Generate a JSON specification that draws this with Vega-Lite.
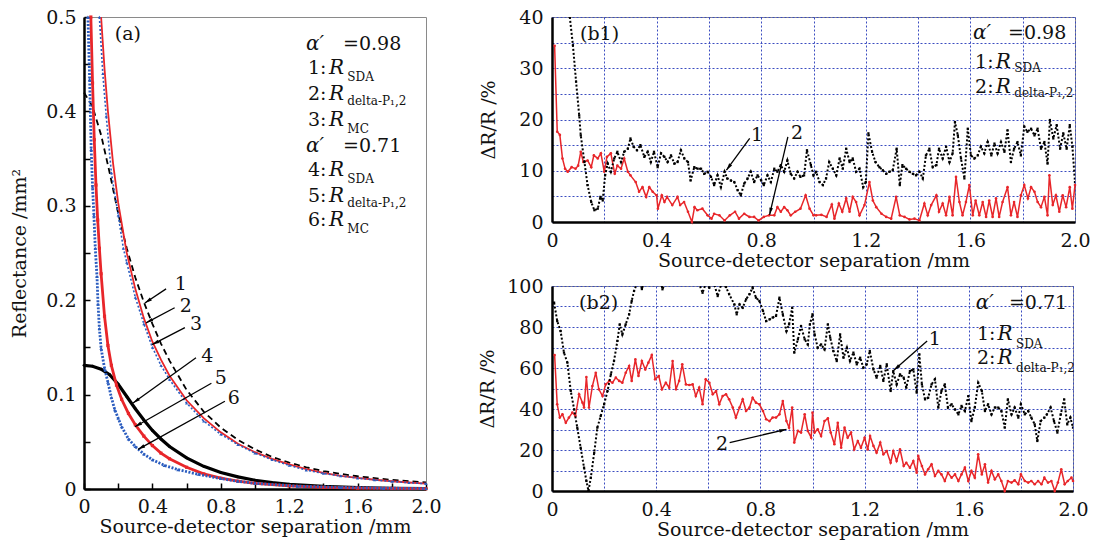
{
"$schema":"https://vega.github.io/schema/vega-lite/v6.json",
"background":"white",
"padding":{"left":10,"top":7,"right":5,"bottom":0},
"bounds":"flush",
"spacing":126,
"config":{"font":"DejaVu Serif","view":{"stroke":"#8a8a8a","strokeWidth":1},
 "axis":{"labelFont":"DejaVu Serif","titleFont":"DejaVu Serif","labelFontSize":19,"titleFontSize":19,"titleFontWeight":"normal","labelColor":"#111","titleColor":"#111","domainColor":"#000","domainWidth":2.5,"tickColor":"#000","labelOverlap":false,"labelFlush":false}},
"datasets":{
"a1":[{"x":0,"y":0.42},{"x":0.05,"y":0.405},{"x":0.1,"y":0.375},{"x":0.15,"y":0.335},{"x":0.2,"y":0.292},{"x":0.25,"y":0.255},{"x":0.3,"y":0.224},{"x":0.35,"y":0.198},{"x":0.4,"y":0.175},{"x":0.45,"y":0.154},{"x":0.5,"y":0.136},{"x":0.6,"y":0.105},{"x":0.7,"y":0.082},{"x":0.8,"y":0.065},{"x":0.9,"y":0.052},{"x":1.0,"y":0.042},{"x":1.1,"y":0.034},{"x":1.2,"y":0.028},{"x":1.3,"y":0.023},{"x":1.4,"y":0.019},{"x":1.5,"y":0.016},{"x":1.6,"y":0.0135},{"x":1.7,"y":0.0115},{"x":1.8,"y":0.0097},{"x":1.9,"y":0.0083},{"x":2.0,"y":0.007}],
"a2":[{"x":0.1,"y":0.5},{"x":0.12,"y":0.445},{"x":0.14,"y":0.4},{"x":0.17,"y":0.345},{"x":0.2,"y":0.303},{"x":0.25,"y":0.25},{"x":0.3,"y":0.212},{"x":0.35,"y":0.181},{"x":0.4,"y":0.156},{"x":0.45,"y":0.137},{"x":0.5,"y":0.12},{"x":0.6,"y":0.094},{"x":0.7,"y":0.075},{"x":0.8,"y":0.06},{"x":0.9,"y":0.048},{"x":1.0,"y":0.039},{"x":1.1,"y":0.032},{"x":1.2,"y":0.026},{"x":1.3,"y":0.021},{"x":1.4,"y":0.017},{"x":1.5,"y":0.014},{"x":1.6,"y":0.0118},{"x":1.7,"y":0.0098},{"x":1.8,"y":0.0082},{"x":1.9,"y":0.0069},{"x":2.0,"y":0.0058}],
"a3":[{"x":0.09,"y":0.5},{"x":0.11,"y":0.44},{"x":0.13,"y":0.395},{"x":0.16,"y":0.335},{"x":0.2,"y":0.29},{"x":0.23,"y":0.255},{"x":0.25,"y":0.24},{"x":0.3,"y":0.203},{"x":0.35,"y":0.175},{"x":0.4,"y":0.15},{"x":0.45,"y":0.131},{"x":0.5,"y":0.116},{"x":0.6,"y":0.091},{"x":0.7,"y":0.072},{"x":0.8,"y":0.058},{"x":0.9,"y":0.047},{"x":1.0,"y":0.038},{"x":1.1,"y":0.031},{"x":1.2,"y":0.025},{"x":1.3,"y":0.02},{"x":1.4,"y":0.0165},{"x":1.5,"y":0.0138},{"x":1.6,"y":0.0115},{"x":1.7,"y":0.0096},{"x":1.8,"y":0.008},{"x":1.9,"y":0.0067},{"x":2.0,"y":0.0056}],
"a4":[{"x":0,"y":0.131},{"x":0.05,"y":0.13},{"x":0.1,"y":0.127},{"x":0.15,"y":0.121},{"x":0.2,"y":0.111},{"x":0.25,"y":0.098},{"x":0.3,"y":0.085},{"x":0.35,"y":0.073},{"x":0.4,"y":0.062},{"x":0.45,"y":0.053},{"x":0.5,"y":0.045},{"x":0.6,"y":0.033},{"x":0.7,"y":0.024},{"x":0.8,"y":0.0175},{"x":0.9,"y":0.0128},{"x":1.0,"y":0.0093},{"x":1.1,"y":0.0068},{"x":1.2,"y":0.005},{"x":1.4,"y":0.0027},{"x":1.6,"y":0.0015},{"x":1.8,"y":0.0008},{"x":2.0,"y":0.0005}],
"a5":[{"x":0.04,"y":0.5},{"x":0.05,"y":0.43},{"x":0.06,"y":0.37},{"x":0.07,"y":0.322},{"x":0.08,"y":0.285},{"x":0.09,"y":0.255},{"x":0.1,"y":0.228},{"x":0.12,"y":0.183},{"x":0.14,"y":0.152},{"x":0.16,"y":0.131},{"x":0.19,"y":0.11},{"x":0.22,"y":0.095},{"x":0.26,"y":0.08},{"x":0.3,"y":0.068},{"x":0.35,"y":0.056},{"x":0.4,"y":0.046},{"x":0.45,"y":0.038},{"x":0.5,"y":0.032},{"x":0.6,"y":0.023},{"x":0.7,"y":0.016},{"x":0.8,"y":0.0115},{"x":0.9,"y":0.0083},{"x":1.0,"y":0.006},{"x":1.2,"y":0.0033},{"x":1.4,"y":0.0018},{"x":1.6,"y":0.001},{"x":1.8,"y":0.0006},{"x":2.0,"y":0.0003}],
"a6":[{"x":0.023,"y":0.5},{"x":0.033,"y":0.434},{"x":0.042,"y":0.36},{"x":0.05,"y":0.32},{"x":0.058,"y":0.29},{"x":0.066,"y":0.255},{"x":0.076,"y":0.225},{"x":0.082,"y":0.196},{"x":0.09,"y":0.17},{"x":0.1,"y":0.149},{"x":0.12,"y":0.128},{"x":0.14,"y":0.113},{"x":0.16,"y":0.097},{"x":0.18,"y":0.084},{"x":0.2,"y":0.075},{"x":0.22,"y":0.066},{"x":0.26,"y":0.053},{"x":0.3,"y":0.045},{"x":0.35,"y":0.037},{"x":0.4,"y":0.031},{"x":0.47,"y":0.025},{"x":0.55,"y":0.0205},{"x":0.67,"y":0.0155},{"x":0.8,"y":0.011},{"x":0.9,"y":0.0082},{"x":1.0,"y":0.006},{"x":1.25,"y":0.003},{"x":1.5,"y":0.0017},{"x":1.75,"y":0.0009},{"x":2.0,"y":0.0005}],
"a_arrows":[{"x":0.356,"y":0.197,"x1":0.48,"y1":0.212,"ang":236},{"x":0.363,"y":0.176,"x1":0.53,"y1":0.192,"ang":242},{"x":0.398,"y":0.153,"x1":0.59,"y1":0.171,"ang":243},{"x":0.287,"y":0.091,"x1":0.655,"y1":0.139,"ang":234},{"x":0.298,"y":0.066,"x1":0.745,"y1":0.112,"ang":240},{"x":0.316,"y":0.042,"x1":0.824,"y1":0.093,"ang":241}],
"a_roman":[{"x":0.18,"y":0.482,"t":"(a)"},{"x":1.515,"y":0.4714,"t":"=0.98"},{"x":1.31,"y":0.446,"t":"1:"},{"x":1.31,"y":0.418,"t":"2:"},{"x":1.31,"y":0.391,"t":"3:"},{"x":1.515,"y":0.363,"t":"=0.71"},{"x":1.31,"y":0.338,"t":"4:"},{"x":1.31,"y":0.31,"t":"5:"},{"x":1.31,"y":0.285,"t":"6:"},{"x":0.53,"y":0.217,"t":"1"},{"x":0.56,"y":0.194,"t":"2"},{"x":0.62,"y":0.175,"t":"3"},{"x":0.685,"y":0.141,"t":"4"},{"x":0.765,"y":0.118,"t":"5"},{"x":0.84,"y":0.096,"t":"6"}],
"a_italic":[{"x":1.298,"y":0.4714,"t":"α′"},{"x":1.433,"y":0.446,"t":"R"},{"x":1.433,"y":0.418,"t":"R"},{"x":1.433,"y":0.391,"t":"R"},{"x":1.298,"y":0.363,"t":"α′"},{"x":1.433,"y":0.338,"t":"R"},{"x":1.433,"y":0.31,"t":"R"},{"x":1.433,"y":0.285,"t":"R"}],
"a_sub":[{"x":1.54,"y":0.4364,"t":"SDA"},{"x":1.54,"y":0.411,"t":"delta-P₁,2"},{"x":1.54,"y":0.381,"t":"MC"},{"x":1.54,"y":0.328,"t":"SDA"},{"x":1.54,"y":0.303,"t":"delta-P₁,2"},{"x":1.54,"y":0.275,"t":"MC"}],
"b1d":[{"x":0.01,"y":34.4},{"x":0.02,"y":17.6},{"x":0.03,"y":17},{"x":0.04,"y":12.4},{"x":0.05,"y":10.4},{"x":0.06,"y":9.8},{"x":0.075,"y":10.7},{"x":0.09,"y":10.4},{"x":0.1,"y":11},{"x":0.11,"y":13.7},{"x":0.12,"y":11.7},{"x":0.136,"y":12},{"x":0.15,"y":10.7},{"x":0.16,"y":13},{"x":0.175,"y":12.4},{"x":0.187,"y":13.4},{"x":0.2,"y":9.8},{"x":0.21,"y":12.7},{"x":0.225,"y":13.4},{"x":0.24,"y":9.4},{"x":0.25,"y":11},{"x":0.264,"y":10.4},{"x":0.276,"y":12.4},{"x":0.29,"y":9.8},{"x":0.3,"y":9.1},{"x":0.32,"y":7.8},{"x":0.333,"y":5.9},{"x":0.346,"y":6.8},{"x":0.36,"y":4.9},{"x":0.372,"y":6.8},{"x":0.385,"y":5.9},{"x":0.4,"y":5.2},{"x":0.405,"y":2.6},{"x":0.42,"y":5.2},{"x":0.43,"y":3.9},{"x":0.44,"y":4.9},{"x":0.46,"y":3.3},{"x":0.48,"y":4.9},{"x":0.49,"y":3.3},{"x":0.505,"y":3.9},{"x":0.52,"y":2.0},{"x":0.535,"y":0},{"x":0.545,"y":2.9},{"x":0.556,"y":2.3},{"x":0.575,"y":2.6},{"x":0.595,"y":1.3},{"x":0.61,"y":0.65},{"x":0.62,"y":1.6},{"x":0.64,"y":1.3},{"x":0.66,"y":0.3},{"x":0.68,"y":1.3},{"x":0.7,"y":2.0},{"x":0.715,"y":0.65},{"x":0.735,"y":1.6},{"x":0.755,"y":1.0},{"x":0.773,"y":1.0},{"x":0.79,"y":0.3},{"x":0.81,"y":1.0},{"x":0.83,"y":1.3},{"x":0.85,"y":1.3},{"x":0.862,"y":2.9},{"x":0.875,"y":2.0},{"x":0.888,"y":2.9},{"x":0.9,"y":2.3},{"x":0.913,"y":1.3},{"x":0.93,"y":2.0},{"x":0.95,"y":2.6},{"x":0.97,"y":5.2},{"x":0.985,"y":2.6},{"x":1.0,"y":1.3},{"x":1.01,"y":1.3},{"x":1.03,"y":1.4},{"x":1.05,"y":1.0},{"x":1.07,"y":3.4},{"x":1.08,"y":0.65},{"x":1.097,"y":3.6},{"x":1.11,"y":2.0},{"x":1.125,"y":4.6},{"x":1.138,"y":2.0},{"x":1.15,"y":4.9},{"x":1.163,"y":3.9},{"x":1.176,"y":1.3},{"x":1.195,"y":3.3},{"x":1.214,"y":7.8},{"x":1.227,"y":4.2},{"x":1.24,"y":2.9},{"x":1.26,"y":1.6},{"x":1.278,"y":1.0},{"x":1.297,"y":0.65},{"x":1.316,"y":4.9},{"x":1.33,"y":1.3},{"x":1.348,"y":1.0},{"x":1.367,"y":0.5},{"x":1.386,"y":0.65},{"x":1.405,"y":0.3},{"x":1.424,"y":3.6},{"x":1.437,"y":1.3},{"x":1.45,"y":3.3},{"x":1.47,"y":5.2},{"x":1.48,"y":2.0},{"x":1.494,"y":3.6},{"x":1.507,"y":1.3},{"x":1.52,"y":4.9},{"x":1.532,"y":1.3},{"x":1.545,"y":8.8},{"x":1.558,"y":3.9},{"x":1.57,"y":1.3},{"x":1.583,"y":3.9},{"x":1.596,"y":7.2},{"x":1.609,"y":1.3},{"x":1.62,"y":4.2},{"x":1.634,"y":1.3},{"x":1.647,"y":3.9},{"x":1.66,"y":1.0},{"x":1.672,"y":4.2},{"x":1.685,"y":1.0},{"x":1.698,"y":4.6},{"x":1.71,"y":1.0},{"x":1.723,"y":3.9},{"x":1.742,"y":6.8},{"x":1.755,"y":1.3},{"x":1.767,"y":3.9},{"x":1.78,"y":1.0},{"x":1.793,"y":5.2},{"x":1.806,"y":7.2},{"x":1.82,"y":4.6},{"x":1.832,"y":6.8},{"x":1.845,"y":5.9},{"x":1.857,"y":3.9},{"x":1.87,"y":2.9},{"x":1.883,"y":4.9},{"x":1.895,"y":1.3},{"x":1.902,"y":9.1},{"x":1.915,"y":3.3},{"x":1.927,"y":5.2},{"x":1.94,"y":2.0},{"x":1.953,"y":5.2},{"x":1.966,"y":2.9},{"x":1.98,"y":6.8},{"x":1.99,"y":2.6},{"x":2.0,"y":7.2}],
"b1s":[{"x":0.068,"y":40},{"x":0.08,"y":34.5},{"x":0.092,"y":27.4},{"x":0.104,"y":20.8},{"x":0.11,"y":16.9},{"x":0.124,"y":11.7},{"x":0.136,"y":7.2},{"x":0.15,"y":3.9},{"x":0.162,"y":2.3},{"x":0.175,"y":2.6},{"x":0.185,"y":4.9},{"x":0.194,"y":4.2},{"x":0.203,"y":9.1},{"x":0.213,"y":11.4},{"x":0.225,"y":9.8},{"x":0.238,"y":12.4},{"x":0.25,"y":13.7},{"x":0.264,"y":11.7},{"x":0.276,"y":13.7},{"x":0.29,"y":14.3},{"x":0.3,"y":16.3},{"x":0.312,"y":14.7},{"x":0.325,"y":14.0},{"x":0.338,"y":15.0},{"x":0.353,"y":12.7},{"x":0.366,"y":13.7},{"x":0.378,"y":11.7},{"x":0.39,"y":13.7},{"x":0.404,"y":10.7},{"x":0.417,"y":13.4},{"x":0.43,"y":12.7},{"x":0.442,"y":11.7},{"x":0.455,"y":13.0},{"x":0.468,"y":11.4},{"x":0.48,"y":11.7},{"x":0.493,"y":14.0},{"x":0.506,"y":12.4},{"x":0.52,"y":11.7},{"x":0.53,"y":8.1},{"x":0.544,"y":10.7},{"x":0.557,"y":10.4},{"x":0.57,"y":10.4},{"x":0.582,"y":9.4},{"x":0.595,"y":9.8},{"x":0.608,"y":8.8},{"x":0.62,"y":7.2},{"x":0.633,"y":9.1},{"x":0.646,"y":6.8},{"x":0.66,"y":9.8},{"x":0.67,"y":8.5},{"x":0.684,"y":8.1},{"x":0.697,"y":7.8},{"x":0.71,"y":6.2},{"x":0.722,"y":5.2},{"x":0.735,"y":7.5},{"x":0.748,"y":8.5},{"x":0.76,"y":9.8},{"x":0.773,"y":7.8},{"x":0.786,"y":9.1},{"x":0.8,"y":8.1},{"x":0.81,"y":7.2},{"x":0.824,"y":9.1},{"x":0.837,"y":7.8},{"x":0.85,"y":10.4},{"x":0.862,"y":9.8},{"x":0.875,"y":11.1},{"x":0.888,"y":9.8},{"x":0.9,"y":12.0},{"x":0.913,"y":9.4},{"x":0.926,"y":8.5},{"x":0.939,"y":9.8},{"x":0.95,"y":8.8},{"x":0.964,"y":9.1},{"x":0.975,"y":14.0},{"x":0.99,"y":11.1},{"x":1.0,"y":9.1},{"x":1.01,"y":9.8},{"x":1.023,"y":7.8},{"x":1.036,"y":7.2},{"x":1.048,"y":8.5},{"x":1.06,"y":11.7},{"x":1.074,"y":10.4},{"x":1.087,"y":9.1},{"x":1.1,"y":12.4},{"x":1.112,"y":10.4},{"x":1.125,"y":14.3},{"x":1.138,"y":11.7},{"x":1.15,"y":12.4},{"x":1.163,"y":9.8},{"x":1.176,"y":10.4},{"x":1.19,"y":6.8},{"x":1.2,"y":7.8},{"x":1.21,"y":17.3},{"x":1.224,"y":13.7},{"x":1.237,"y":11.7},{"x":1.252,"y":10.7},{"x":1.265,"y":10.1},{"x":1.278,"y":9.4},{"x":1.29,"y":9.8},{"x":1.303,"y":10.1},{"x":1.318,"y":14.3},{"x":1.33,"y":7.2},{"x":1.34,"y":11.1},{"x":1.354,"y":10.4},{"x":1.367,"y":9.8},{"x":1.38,"y":9.4},{"x":1.392,"y":9.1},{"x":1.405,"y":9.8},{"x":1.418,"y":8.5},{"x":1.43,"y":13.0},{"x":1.443,"y":14.3},{"x":1.456,"y":10.7},{"x":1.47,"y":11.1},{"x":1.48,"y":14.3},{"x":1.494,"y":12.4},{"x":1.507,"y":14.7},{"x":1.52,"y":11.7},{"x":1.532,"y":13.4},{"x":1.541,"y":19.5},{"x":1.552,"y":16.9},{"x":1.564,"y":12.4},{"x":1.577,"y":8.5},{"x":1.59,"y":18.2},{"x":1.602,"y":13.0},{"x":1.615,"y":12.4},{"x":1.628,"y":13.0},{"x":1.64,"y":14.7},{"x":1.653,"y":13.4},{"x":1.666,"y":15.6},{"x":1.68,"y":13.0},{"x":1.692,"y":15.3},{"x":1.704,"y":13.4},{"x":1.717,"y":15.6},{"x":1.73,"y":13.7},{"x":1.742,"y":17.9},{"x":1.755,"y":11.7},{"x":1.767,"y":14.3},{"x":1.78,"y":15.6},{"x":1.793,"y":13.0},{"x":1.806,"y":18.6},{"x":1.818,"y":17.6},{"x":1.832,"y":18.2},{"x":1.845,"y":16.9},{"x":1.857,"y":18.2},{"x":1.87,"y":14.3},{"x":1.883,"y":15.6},{"x":1.895,"y":11.4},{"x":1.904,"y":19.9},{"x":1.917,"y":16.3},{"x":1.93,"y":18.9},{"x":1.943,"y":14.3},{"x":1.955,"y":17.3},{"x":1.968,"y":14.3},{"x":1.98,"y":18.9},{"x":1.99,"y":14.7},{"x":2.0,"y":7.8}],
"b1_arrows":[{"x":0.667,"y":10.1,"x1":0.756,"y1":16.3,"ang":216},{"x":0.832,"y":1.4,"x1":0.902,"y1":16.6,"ang":193}],
"b1_roman":[{"x":0.107,"y":36.7,"t":"(b1)"},{"x":1.744,"y":36.9,"t":"=0.98"},{"x":1.618,"y":31.2,"t":"1:"},{"x":1.618,"y":26.3,"t":"2:"},{"x":0.761,"y":17,"t":"1"},{"x":0.914,"y":17.3,"t":"2"}],
"b1_italic":[{"x":1.61,"y":36.9,"t":"α′"},{"x":1.697,"y":31.2,"t":"R"},{"x":1.697,"y":26.3,"t":"R"}],
"b1_sub":[{"x":1.768,"y":30.0,"t":"SDA"},{"x":1.768,"y":25.2,"t":"delta-P₁,2"}],
"b2d":[{"x":0.01,"y":66.3},{"x":0.02,"y":42.3},{"x":0.03,"y":35.8},{"x":0.04,"y":37.4},{"x":0.053,"y":33.3},{"x":0.065,"y":35.8},{"x":0.078,"y":38.2},{"x":0.09,"y":36.6},{"x":0.104,"y":47.2},{"x":0.117,"y":43.1},{"x":0.123,"y":40.7},{"x":0.132,"y":55.6},{"x":0.142,"y":40.7},{"x":0.155,"y":51.2},{"x":0.168,"y":57.7},{"x":0.18,"y":49.6},{"x":0.194,"y":46.3},{"x":0.206,"y":52.0},{"x":0.22,"y":53.7},{"x":0.232,"y":52.8},{"x":0.245,"y":55.3},{"x":0.258,"y":53.7},{"x":0.27,"y":52.8},{"x":0.283,"y":57.7},{"x":0.296,"y":61.0},{"x":0.306,"y":53.7},{"x":0.32,"y":64.2},{"x":0.332,"y":56.1},{"x":0.345,"y":63.4},{"x":0.358,"y":59.3},{"x":0.37,"y":62.6},{"x":0.383,"y":66.3},{"x":0.396,"y":54.5},{"x":0.41,"y":56.1},{"x":0.422,"y":49.6},{"x":0.437,"y":52.8},{"x":0.45,"y":50.4},{"x":0.463,"y":63.4},{"x":0.476,"y":49.6},{"x":0.488,"y":53.7},{"x":0.5,"y":61.8},{"x":0.514,"y":52.0},{"x":0.527,"y":51.7},{"x":0.54,"y":52.0},{"x":0.552,"y":46.3},{"x":0.565,"y":50.4},{"x":0.578,"y":42.3},{"x":0.59,"y":54.5},{"x":0.604,"y":52.8},{"x":0.617,"y":47.2},{"x":0.63,"y":48.8},{"x":0.642,"y":42.3},{"x":0.655,"y":46.3},{"x":0.668,"y":47.2},{"x":0.68,"y":44.7},{"x":0.694,"y":40.7},{"x":0.706,"y":35.8},{"x":0.72,"y":40.7},{"x":0.732,"y":44.7},{"x":0.745,"y":39.0},{"x":0.758,"y":40.7},{"x":0.77,"y":45.5},{"x":0.783,"y":43.1},{"x":0.796,"y":42.3},{"x":0.81,"y":39.0},{"x":0.822,"y":35.0},{"x":0.835,"y":34.1},{"x":0.847,"y":35.8},{"x":0.86,"y":35.8},{"x":0.873,"y":37.4},{"x":0.886,"y":43.9},{"x":0.9,"y":34.1},{"x":0.91,"y":30.9},{"x":0.922,"y":40.7},{"x":0.93,"y":23.6},{"x":0.944,"y":29.3},{"x":0.956,"y":28.5},{"x":0.97,"y":37.4},{"x":0.982,"y":29.3},{"x":0.995,"y":26.0},{"x":1.0,"y":38.2},{"x":1.008,"y":28.5},{"x":1.02,"y":30.1},{"x":1.033,"y":26.8},{"x":1.046,"y":34.1},{"x":1.059,"y":35.4},{"x":1.07,"y":28.5},{"x":1.084,"y":22.8},{"x":1.097,"y":33.3},{"x":1.11,"y":21.1},{"x":1.123,"y":30.9},{"x":1.135,"y":26.0},{"x":1.148,"y":28.5},{"x":1.16,"y":20.3},{"x":1.174,"y":24.4},{"x":1.186,"y":21.1},{"x":1.2,"y":26.0},{"x":1.212,"y":20.3},{"x":1.221,"y":26.8},{"x":1.234,"y":22.0},{"x":1.246,"y":18.7},{"x":1.26,"y":23.6},{"x":1.272,"y":17.9},{"x":1.285,"y":19.5},{"x":1.3,"y":13.8},{"x":1.31,"y":19.5},{"x":1.323,"y":14.6},{"x":1.336,"y":20.3},{"x":1.35,"y":12.2},{"x":1.36,"y":13.8},{"x":1.374,"y":11.4},{"x":1.387,"y":14.6},{"x":1.4,"y":8.9},{"x":1.406,"y":17.1},{"x":1.42,"y":12.2},{"x":1.432,"y":8.1},{"x":1.444,"y":10.6},{"x":1.457,"y":13.0},{"x":1.47,"y":7.3},{"x":1.483,"y":9.8},{"x":1.495,"y":8.1},{"x":1.508,"y":4.9},{"x":1.52,"y":8.9},{"x":1.534,"y":6.5},{"x":1.547,"y":8.1},{"x":1.56,"y":4.9},{"x":1.572,"y":8.1},{"x":1.585,"y":11.4},{"x":1.598,"y":4.9},{"x":1.61,"y":9.8},{"x":1.623,"y":6.5},{"x":1.636,"y":17.9},{"x":1.65,"y":8.1},{"x":1.662,"y":13.0},{"x":1.674,"y":4.1},{"x":1.687,"y":9.8},{"x":1.7,"y":5.7},{"x":1.713,"y":8.1},{"x":1.725,"y":4.9},{"x":1.738,"y":0},{"x":1.75,"y":4.9},{"x":1.764,"y":4.1},{"x":1.776,"y":5.2},{"x":1.79,"y":3.3},{"x":1.8,"y":8.1},{"x":1.815,"y":4.9},{"x":1.828,"y":4.1},{"x":1.84,"y":4.9},{"x":1.853,"y":3.3},{"x":1.866,"y":4.9},{"x":1.879,"y":3.3},{"x":1.89,"y":6.5},{"x":1.904,"y":4.1},{"x":1.917,"y":4.9},{"x":1.93,"y":0},{"x":1.942,"y":4.1},{"x":1.955,"y":10.6},{"x":1.968,"y":3.3},{"x":1.98,"y":4.9},{"x":1.994,"y":6.5},{"x":2.0,"y":4.9}],
"b2s":[{"x":0.008,"y":91.9},{"x":0.02,"y":82.9},{"x":0.033,"y":78.0},{"x":0.046,"y":67.5},{"x":0.059,"y":62.6},{"x":0.072,"y":48.8},{"x":0.085,"y":39.8},{"x":0.097,"y":30.9},{"x":0.11,"y":21.1},{"x":0.123,"y":11.4},{"x":0.132,"y":4.9},{"x":0.14,"y":0},{"x":0.149,"y":6.5},{"x":0.162,"y":18.7},{"x":0.174,"y":30.9},{"x":0.187,"y":36.6},{"x":0.2,"y":42.3},{"x":0.213,"y":48.8},{"x":0.226,"y":56.9},{"x":0.238,"y":63.4},{"x":0.251,"y":73.2},{"x":0.26,"y":81.3},{"x":0.27,"y":76.4},{"x":0.283,"y":81.3},{"x":0.296,"y":86.2},{"x":0.306,"y":92.7},{"x":0.315,"y":97.6},{"x":0.324,"y":100.5},{"x":0.335,"y":104},{"x":0.345,"y":98.5},{"x":0.36,"y":105},{"x":0.38,"y":110},{"x":0.4,"y":112},{"x":0.415,"y":104},{"x":0.424,"y":98.4},{"x":0.44,"y":103},{"x":0.46,"y":110},{"x":0.49,"y":114},{"x":0.52,"y":110},{"x":0.55,"y":104},{"x":0.565,"y":101},{"x":0.578,"y":96.7},{"x":0.59,"y":101},{"x":0.604,"y":99.2},{"x":0.62,"y":102},{"x":0.636,"y":95.1},{"x":0.65,"y":101},{"x":0.668,"y":99.5},{"x":0.68,"y":96},{"x":0.7,"y":91},{"x":0.709,"y":86.2},{"x":0.72,"y":91},{"x":0.732,"y":89.4},{"x":0.745,"y":93.5},{"x":0.758,"y":96},{"x":0.77,"y":99.2},{"x":0.783,"y":94.3},{"x":0.796,"y":92.7},{"x":0.81,"y":87.8},{"x":0.822,"y":82.9},{"x":0.835,"y":83.7},{"x":0.847,"y":84.6},{"x":0.86,"y":85.4},{"x":0.873,"y":94.3},{"x":0.886,"y":86.2},{"x":0.9,"y":78.0},{"x":0.91,"y":81.3},{"x":0.922,"y":89.4},{"x":0.93,"y":67.5},{"x":0.944,"y":74.0},{"x":0.956,"y":80.5},{"x":0.97,"y":74.0},{"x":0.982,"y":71.5},{"x":0.99,"y":81.3},{"x":1.0,"y":86.2},{"x":1.008,"y":76.4},{"x":1.02,"y":69.9},{"x":1.033,"y":71.5},{"x":1.046,"y":69.1},{"x":1.059,"y":81.3},{"x":1.068,"y":74.8},{"x":1.08,"y":68.3},{"x":1.093,"y":63.4},{"x":1.106,"y":76.4},{"x":1.119,"y":65.0},{"x":1.132,"y":69.9},{"x":1.144,"y":63.4},{"x":1.157,"y":67.5},{"x":1.17,"y":61.8},{"x":1.183,"y":65.0},{"x":1.195,"y":60.2},{"x":1.208,"y":61.8},{"x":1.22,"y":68.3},{"x":1.234,"y":59.3},{"x":1.246,"y":55.3},{"x":1.26,"y":61.0},{"x":1.272,"y":53.7},{"x":1.285,"y":61.8},{"x":1.3,"y":48.8},{"x":1.31,"y":58.5},{"x":1.323,"y":52.0},{"x":1.336,"y":56.9},{"x":1.35,"y":55.3},{"x":1.36,"y":50.4},{"x":1.374,"y":58.5},{"x":1.387,"y":59.3},{"x":1.4,"y":48.0},{"x":1.41,"y":66.7},{"x":1.42,"y":52.0},{"x":1.432,"y":44.7},{"x":1.444,"y":45.5},{"x":1.457,"y":52.0},{"x":1.47,"y":54.5},{"x":1.483,"y":40.7},{"x":1.495,"y":48.8},{"x":1.508,"y":52.0},{"x":1.52,"y":40.7},{"x":1.534,"y":42.3},{"x":1.547,"y":39.8},{"x":1.56,"y":37.4},{"x":1.572,"y":41.5},{"x":1.585,"y":39.0},{"x":1.598,"y":46.3},{"x":1.61,"y":34.1},{"x":1.623,"y":40.7},{"x":1.636,"y":52.8},{"x":1.65,"y":48.8},{"x":1.662,"y":39.0},{"x":1.674,"y":42.3},{"x":1.687,"y":37.4},{"x":1.7,"y":40.7},{"x":1.713,"y":40.7},{"x":1.725,"y":39.0},{"x":1.738,"y":30.9},{"x":1.75,"y":44.7},{"x":1.764,"y":37.4},{"x":1.776,"y":40.7},{"x":1.79,"y":35.8},{"x":1.8,"y":42.3},{"x":1.815,"y":37.4},{"x":1.828,"y":39.0},{"x":1.84,"y":35.8},{"x":1.853,"y":32.5},{"x":1.863,"y":24.4},{"x":1.876,"y":34.1},{"x":1.89,"y":35.8},{"x":1.9,"y":37.4},{"x":1.914,"y":40.7},{"x":1.927,"y":34.1},{"x":1.94,"y":28.5},{"x":1.953,"y":37.4},{"x":1.966,"y":44.7},{"x":1.978,"y":32.5},{"x":1.99,"y":35.8},{"x":2.0,"y":30.9}],
"b2_arrows":[{"x":0.9,"y":30.1,"x1":0.682,"y1":23.6,"ang":77},{"x":1.312,"y":58.9,"x1":1.44,"y1":73.2,"ang":229}],
"b2_roman":[{"x":0.104,"y":91.9,"t":"(b2)"},{"x":1.754,"y":91.7,"t":"=0.71"},{"x":1.631,"y":76.6,"t":"1:"},{"x":1.631,"y":64.9,"t":"2:"},{"x":0.63,"y":22.8,"t":"2"},{"x":1.446,"y":74,"t":"1"}],
"b2_italic":[{"x":1.627,"y":91.7,"t":"α′"},{"x":1.71,"y":76.6,"t":"R"},{"x":1.71,"y":64.9,"t":"R"}],
"b2_sub":[{"x":1.781,"y":71.7,"t":"SDA"},{"x":1.781,"y":60.0,"t":"delta-P₁,2"}]
},
"hconcat":[
{"width":342,"height":472,
 "encoding":{
  "x":{"field":"x","type":"quantitative","scale":{"domain":[0,2],"nice":false,"zero":false},
   "axis":{"values":[0,0.2,0.4,0.6,0.8,1,1.2,1.4,1.6,1.8,2],"labelExpr":"abs(datum.value/0.4 - round(datum.value/0.4)) < 0.01 ? (datum.value == 0 ? '0' : format(datum.value, '.1f')) : ''","tickSize":-6,"tickWidth":1.5,"labelPadding":14,"grid":false,"title":"Source-detector separation /mm","titlePadding":1}},
  "y":{"field":"y","type":"quantitative","scale":{"domain":[0,0.5],"nice":false,"zero":false},
   "axis":{"values":[0,0.05,0.1,0.15,0.2,0.25,0.3,0.35,0.4,0.45,0.5],"labelExpr":"abs(datum.value*10 - round(datum.value*10)) < 0.01 ? (datum.value == 0 ? '0' : format(datum.value, '.1f')) : ''","tickSize":-6,"tickWidth":1.5,"labelPadding":14,"grid":false,"title":"Reflectance /mm²","titlePadding":16}}},
 "layer":[
  {"data":{"name":"a1"},"mark":{"type":"line","color":"#000","strokeWidth":1.8,"strokeDash":[6,4]},"encoding":{}},
  {"data":{"name":"a2"},"mark":{"type":"line","color":"#e8262a","strokeWidth":1.8},"encoding":{}},
  {"data":{"name":"a3"},"mark":{"type":"line","color":"#2a5cbf","strokeWidth":1.6,"strokeDash":[2,2],"point":{"shape":"triangle-up","size":10,"filled":true,"color":"#2a5cbf"}},"encoding":{}},
  {"data":{"name":"a4"},"mark":{"type":"line","color":"#000","strokeWidth":3.2,"point":{"size":8,"filled":true,"color":"#000"}},"encoding":{}},
  {"data":{"name":"a5"},"mark":{"type":"line","color":"#e8262a","strokeWidth":2.8,"point":{"shape":"square","size":10,"filled":true,"color":"#e8262a"}},"encoding":{}},
  {"data":{"name":"a6"},"mark":{"type":"line","color":"#2a5cbf","strokeWidth":2.8,"strokeDash":[2,1.5],"point":{"shape":"triangle-up","size":12,"filled":true,"color":"#2a5cbf"}},"encoding":{}},
  {"data":{"name":"a_arrows"},"mark":{"type":"rule","color":"#000","strokeWidth":1.3},"encoding":{"x2":{"field":"x1"},"y2":{"field":"y1"}}},
  {"data":{"name":"a_arrows"},"mark":{"type":"point","shape":"M0,0L-0.45,1.8L0.45,1.8Z","size":64,"filled":true,"color":"#000","opacity":1},"encoding":{"angle":{"field":"ang","type":"quantitative","scale":null}}},
  {"data":{"name":"a_roman"},"mark":{"type":"text","align":"left","baseline":"middle","fontSize":19,"font":"DejaVu Serif","color":"#111"},"encoding":{"text":{"field":"t"}}},
  {"data":{"name":"a_italic"},"mark":{"type":"text","align":"left","baseline":"middle","fontSize":20,"fontStyle":"italic","font":"DejaVu Serif","color":"#111"},"encoding":{"text":{"field":"t"}}},
  {"data":{"name":"a_sub"},"mark":{"type":"text","align":"left","baseline":"middle","fontSize":12,"font":"DejaVu Serif","color":"#111"},"encoding":{"text":{"field":"t"}}}
 ]},
{"vconcat":[
 {"width":523,"height":205,
  "encoding":{
   "x":{"field":"x","type":"quantitative","scale":{"domain":[0,2],"nice":false,"zero":false},
    "axis":{"values":[0,0.2,0.4,0.6,0.8,1,1.2,1.4,1.6,1.8,2],"labelExpr":"abs(datum.value/0.4 - round(datum.value/0.4)) < 0.01 ? (datum.value == 0 ? '0' : format(datum.value, '.1f')) : ''","ticks":false,"labelPadding":9,"grid":true,"gridColor":"#3b4cc0","gridDash":[2,2],"gridWidth":1,"title":"Source-detector separation /mm","titlePadding":1}},
   "y":{"field":"y","type":"quantitative","scale":{"domain":[0,40],"nice":false,"zero":false},
    "axis":{"values":[0,5,10,15,20,25,30,35,40],"labelExpr":"datum.value % 10 == 0 ? datum.label : ''","ticks":false,"labelPadding":9,"grid":true,"gridColor":"#3b4cc0","gridDash":[2,2],"gridWidth":1,"title":"ΔR/R /%","titlePadding":20}}},
  "layer":[
   {"data":{"name":"b1d"},"mark":{"type":"line","color":"#e8262a","strokeWidth":1.5,"point":{"size":7,"filled":true,"color":"#e8262a"}},"encoding":{}},
   {"data":{"name":"b1s"},"mark":{"type":"line","color":"#000","strokeWidth":2,"strokeDash":[2,2],"clip":true,"point":{"shape":"square","size":5,"filled":true,"color":"#000"}},"encoding":{}},
   {"data":{"name":"b1_arrows"},"mark":{"type":"rule","color":"#000","strokeWidth":1.3},"encoding":{"x2":{"field":"x1"},"y2":{"field":"y1"}}},
   {"data":{"name":"b1_arrows"},"mark":{"type":"point","shape":"M0,0L-0.45,1.8L0.45,1.8Z","size":64,"filled":true,"color":"#000","opacity":1},"encoding":{"angle":{"field":"ang","type":"quantitative","scale":null}}},
   {"data":{"name":"b1_roman"},"mark":{"type":"text","align":"left","baseline":"middle","fontSize":19,"font":"DejaVu Serif","color":"#111"},"encoding":{"text":{"field":"t"}}},
   {"data":{"name":"b1_italic"},"mark":{"type":"text","align":"left","baseline":"middle","fontSize":20,"fontStyle":"italic","font":"DejaVu Serif","color":"#111"},"encoding":{"text":{"field":"t"}}},
   {"data":{"name":"b1_sub"},"mark":{"type":"text","align":"left","baseline":"middle","fontSize":12,"font":"DejaVu Serif","color":"#111"},"encoding":{"text":{"field":"t"}}}
  ]},
 {"width":521,"height":205,
  "encoding":{
   "x":{"field":"x","type":"quantitative","scale":{"domain":[0,2],"nice":false,"zero":false},
    "axis":{"values":[0,0.2,0.4,0.6,0.8,1,1.2,1.4,1.6,1.8,2],"labelExpr":"abs(datum.value/0.4 - round(datum.value/0.4)) < 0.01 ? (datum.value == 0 ? '0' : format(datum.value, '.1f')) : ''","ticks":false,"labelPadding":9,"grid":true,"gridColor":"#3b4cc0","gridDash":[2,2],"gridWidth":1,"title":"Source-detector separation /mm","titlePadding":1}},
   "y":{"field":"y","type":"quantitative","scale":{"domain":[0,100],"nice":false,"zero":false},
    "axis":{"values":[0,10,20,30,40,50,60,70,80,90,100],"labelExpr":"datum.value % 20 == 0 ? datum.label : ''","ticks":false,"labelPadding":9,"grid":true,"gridColor":"#3b4cc0","gridDash":[2,2],"gridWidth":1,"title":"ΔR/R /%","titlePadding":9}}},
  "layer":[
   {"data":{"name":"b2d"},"mark":{"type":"line","color":"#e8262a","strokeWidth":1.5,"point":{"size":7,"filled":true,"color":"#e8262a"}},"encoding":{}},
   {"data":{"name":"b2s"},"mark":{"type":"line","color":"#000","strokeWidth":2,"strokeDash":[2,2],"clip":true,"point":{"shape":"square","size":5,"filled":true,"color":"#000","clip":true}},"encoding":{}},
   {"data":{"name":"b2_arrows"},"mark":{"type":"rule","color":"#000","strokeWidth":1.3},"encoding":{"x2":{"field":"x1"},"y2":{"field":"y1"}}},
   {"data":{"name":"b2_arrows"},"mark":{"type":"point","shape":"M0,0L-0.45,1.8L0.45,1.8Z","size":64,"filled":true,"color":"#000","opacity":1},"encoding":{"angle":{"field":"ang","type":"quantitative","scale":null}}},
   {"data":{"name":"b2_roman"},"mark":{"type":"text","align":"left","baseline":"middle","fontSize":19,"font":"DejaVu Serif","color":"#111"},"encoding":{"text":{"field":"t"}}},
   {"data":{"name":"b2_italic"},"mark":{"type":"text","align":"left","baseline":"middle","fontSize":20,"fontStyle":"italic","font":"DejaVu Serif","color":"#111"},"encoding":{"text":{"field":"t"}}},
   {"data":{"name":"b2_sub"},"mark":{"type":"text","align":"left","baseline":"middle","fontSize":12,"font":"DejaVu Serif","color":"#111"},"encoding":{"text":{"field":"t"}}}
  ]}
 ],"spacing":64,"bounds":"flush"}
]
}
